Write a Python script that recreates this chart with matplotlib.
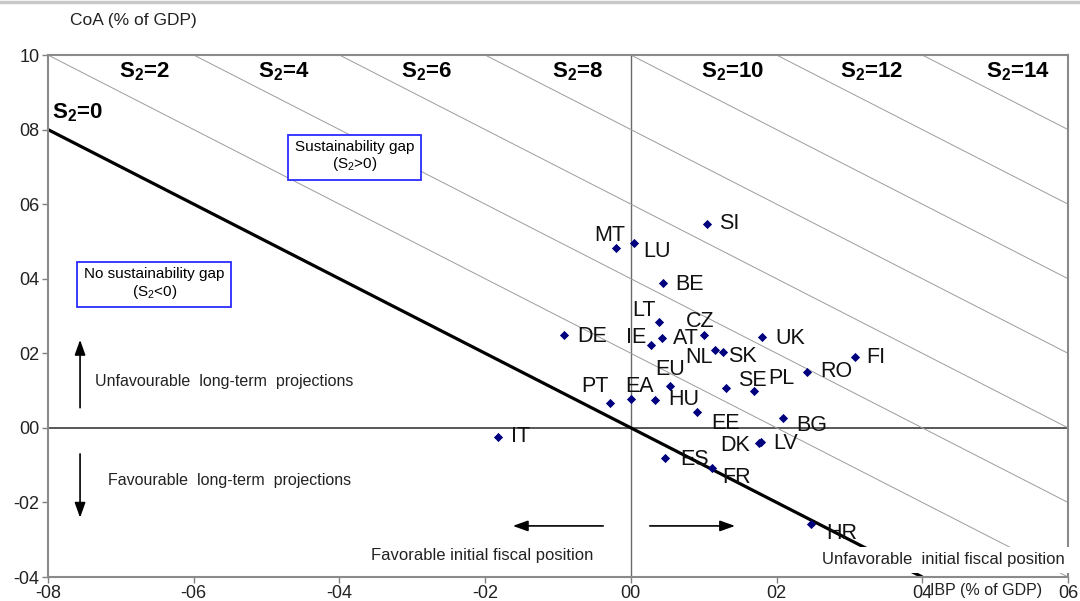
import matplotlib
matplotlib.use("Agg")
import matplotlib.pyplot as plt
from matplotlib.lines import Line2D
import numpy as np

plt.rcParams['font.family'] = ['Liberation Sans', 'DejaVu Sans']
plt.rcParams['mathtext.fontset'] = 'custom'
plt.rcParams['mathtext.rm'] = 'Liberation Sans'
plt.rcParams['mathtext.it'] = 'Liberation Sans:italic'
plt.rcParams['mathtext.bf'] = 'Liberation Sans:bold'

# Country positions: initial budgetary position (IBP) vs cost of ageing (CoA), % of GDP
countries = ['SI', 'MT', 'LU', 'BE', 'LT', 'DE', 'IE', 'AT', 'CZ', 'NL', 'SK', 'UK',
             'FI', 'RO', 'PL', 'SE', 'EU', 'EA', 'PT', 'HU', 'EE', 'BG', 'LV', 'DK',
             'IT', 'ES', 'FR', 'HR']
ibp = [1.05, -0.20, 0.04, 0.44, 0.39, -0.92, 0.27, 0.43, 1.01, 1.15, 1.26, 1.80,
       3.08, 2.42, 1.69, 1.30, 0.54, 0.00, -0.28, 0.33, 0.91, 2.09, 1.78, 1.76,
       -1.82, 0.47, 1.12, 2.47]
coa = [5.47, 4.82, 4.95, 3.88, 2.85, 2.49, 2.21, 2.42, 2.49, 2.09, 2.03, 2.43,
       1.90, 1.50, 1.00, 1.06, 1.13, 0.78, 0.68, 0.75, 0.43, 0.26, -0.38, -0.40,
       -0.24, -0.80, -1.08, -2.58]

# Iso-S2 lines: CoA = S2 - IBP
s2_levels = [0, 2, 4, 6, 8, 10, 12, 14]

x_ticks = [-8, -6, -4, -2, 0, 2, 4, 6]
x_tick_labels = ['-08', '-06', '-04', '-02', '00', '02', '04', '06']
y_ticks = [-4, -2, 0, 2, 4, 6, 8, 10]
y_tick_labels = ['-04', '-02', '00', '02', '04', '06', '08', '10']

# label offsets (pixels) of each country name from its marker
label_offsets = {
    'SI': (22, 0), 'MT': (-7, 13), 'LU': (23, -8), 'BE': (27, -1), 'LT': (-15, 11),
    'DE': (28, -1), 'IE': (-14, 8), 'AT': (24, -1), 'CZ': (-4, 14), 'NL': (-16, -8),
    'SK': (20, -4), 'UK': (28, -1), 'FI': (21, 0), 'RO': (29, 0), 'PL': (27, 12),
    'SE': (27, 8), 'EU': (0, 16), 'EA': (9, 12), 'PT': (-16, 16), 'HU': (29, 0),
    'EE': (28, -12), 'BG': (29, -7), 'LV': (25, -1), 'DK': (-24, -3), 'IT': (22, 0),
    'ES': (29, -2), 'FR': (24, -9), 'HR': (31, -9),
}

# positions of the S2 line captions (data units)
s2_label_pos = {0: (-7.94, 8.45), 2: (-6.67, 9.54), 4: (-4.77, 9.54), 6: (-2.80, 9.54),
                8: (-0.73, 9.54), 10: (1.40, 9.54), 12: (3.31, 9.54), 14: (5.31, 9.54)}

fig = plt.figure(figsize=(10.8, 6.01), dpi=100)
ax = fig.add_axes([48 / 1080, 1 - 577 / 601, 1020 / 1080, 522 / 601])
ax.set_xlim(-8, 6)
ax.set_ylim(-4, 10)

# thin top border of the figure
fig.add_artist(Line2D([0, 1], [0.996, 0.996], transform=fig.transFigure,
                      color='#c8c8c8', lw=2.5))

# zero axes
ax.axvline(0, color='#6a6a6a', lw=1.0, zorder=1)
ax.axhline(0, color='#4a4a4a', lw=1.3, zorder=1)

# iso-S2 lines
xs = np.array([-8.0, 6.0])
for k in s2_levels:
    if k == 0:
        xk = np.array([-8.0, 4.0])
        ax.plot(xk, k - xk, color='black', lw=2.3, zorder=2, solid_capstyle='butt')
    else:
        ax.plot(xs, k - xs, color='#9c9c9c', lw=0.7, zorder=1)

# S2 captions
for k in s2_levels:
    x, y = s2_label_pos[k]
    ha = 'left' if k == 0 else 'center'
    ax.text(x, y, r'S$_{\mathbf{2}}$=%d' % k, fontsize=16, fontweight='bold',
            ha=ha, va='center', zorder=4,
            bbox=dict(facecolor='white', edgecolor='none', pad=0.5))

# country markers and labels
ax.scatter(ibp, coa, marker='D', s=22, color='#00007f', zorder=5, linewidths=0)
for name, x, y in zip(countries, ibp, coa):
    dx, dy = label_offsets[name]
    ax.annotate(name, (x, y), xytext=(dx, dy), textcoords='offset pixels',
                ha='center', va='center', fontsize=15.5, color='#111111', zorder=6)

# explanatory boxes
box_style = dict(facecolor='white', edgecolor='#2b2bff', lw=1.3, boxstyle='square,pad=0.45')
ax.text(-3.79, 7.27, 'Sustainability gap\n(S$_2$>0)', fontsize=11, ha='center',
        va='center', linespacing=1.1, zorder=4, bbox=box_style)
ax.text(-6.54, 3.86, 'No sustainability gap\n(S$_2$<0)', fontsize=11, ha='center',
        va='center', linespacing=1.1, zorder=4, bbox=box_style)

# direction arrows
arrow = dict(arrowstyle='-|>,head_length=0.7,head_width=0.25', color='black', lw=1.2,
             mutation_scale=13, shrinkA=0, shrinkB=0)
ax.annotate('', xy=(-7.56, 2.36), xytext=(-7.56, 0.54), arrowprops=arrow, zorder=3)
ax.annotate('', xy=(-7.56, -2.41), xytext=(-7.56, -0.70), arrowprops=arrow, zorder=3)
ax.annotate('', xy=(-1.62, -2.63), xytext=(-0.38, -2.63), arrowprops=arrow, zorder=3)
ax.annotate('', xy=(1.43, -2.63), xytext=(0.26, -2.63), arrowprops=arrow, zorder=3)

ax.text(-7.35, 1.24, 'Unfavourable  long-term  projections', fontsize=11.5,
        ha='left', va='center', color='#222222', zorder=4)
ax.text(-7.17, -1.42, 'Favourable  long-term  projections', fontsize=11.5,
        ha='left', va='center', color='#222222', zorder=4)
ax.text(-3.57, -3.43, 'Favorable initial fiscal position', fontsize=12,
        ha='left', va='center', color='#222222', zorder=4)
ax.text(2.62, -3.54, 'Unfavorable  initial fiscal position', fontsize=12,
        ha='left', va='center', color='#222222', zorder=4,
        bbox=dict(facecolor='white', edgecolor='none', pad=4))

# axis titles
fig.text(70 / 1080, 1 - 20 / 601, 'CoA (% of GDP)', fontsize=12.5, ha='left',
         va='center', color='#222222')
ax.text(0.8647, -0.025, 'IBP (% of GDP)', transform=ax.transAxes, fontsize=11.5,
        ha='left', va='center', color='#222222')

# ticks and frame
ax.set_xticks(x_ticks)
ax.set_xticklabels(x_tick_labels)
ax.set_yticks(y_ticks)
ax.set_yticklabels(y_tick_labels)
ax.tick_params(axis='both', direction='out', length=4, width=1, color='#808080',
               labelsize=13, labelcolor='#222222', pad=2)
for side in ['left', 'bottom', 'top', 'right']:
    ax.spines[side].set_color('#8a8a8a')
    ax.spines[side].set_linewidth(1.5)

fig.savefig('out.png', dpi=100)
